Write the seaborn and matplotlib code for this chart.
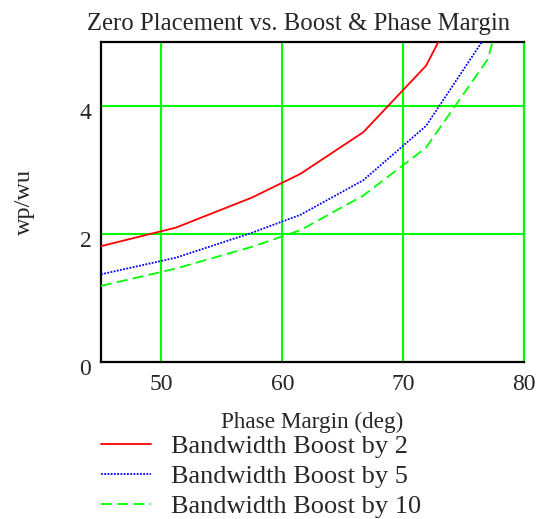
import matplotlib
matplotlib.use("Agg")
import matplotlib.pyplot as plt
import matplotlib.transforms as mtransforms
import seaborn as sns
import pandas as pd

phase_margin = [45, 51.2, 57.5, 61.5, 66.7, 71.9, 77.0, 80.0]
boost2 = [1.81, 2.10, 2.57, 2.94, 3.59, 4.63, 6.50, 7.6]
boost5 = [1.37, 1.63, 2.02, 2.30, 2.84, 3.69, 5.14, 6.2]
boost10 = [1.19, 1.46, 1.80, 2.06, 2.60, 3.35, 4.73, 6.75]
labels = ["Bandwidth Boost by 2", "Bandwidth Boost by 5", "Bandwidth Boost by 10"]

sns.set_style("white")
plt.rcParams['font.family'] = ['Liberation Serif', 'DejaVu Serif']

fig = plt.figure(figsize=(5.43, 5.19), dpi=100)
ax = fig.add_axes([101/543, 1-362/519, (524-101)/543, (362-42)/519])

styles = [("#ff0000", "-"), ("#0000ff", (0, (1, 0.8))), ("#00ff00", (0, (6, 3)))]
for ys, lab, (c, ls) in zip([boost2, boost5, boost10], labels, styles):
    df = pd.DataFrame({"x": phase_margin, "y": ys})
    sns.lineplot(data=df, x="x", y="y", ax=ax, color=c, linestyle=ls, linewidth=1.3,
                 label=lab, zorder=3)

ax.set_xlim(45, 80)
ax.set_ylim(0, 5)
ax.set_xticks([50, 60, 70, 80])
ax.set_yticks([0, 2, 4])
ax.grid(True, color="#00ff00", linewidth=1.5, zorder=1)
ax.set_axisbelow(True)
for s in ["left", "bottom", "top"]:
    ax.spines[s].set_color("black")
    ax.spines[s].set_linewidth(1.6)
ax.spines["right"].set_color("#00ff00")
ax.spines["right"].set_linewidth(1.6)
ax.tick_params(axis="both", length=0, labelsize=17)
ax.tick_params(axis="x", pad=9)
ax.tick_params(axis="y", pad=7)
off = mtransforms.ScaledTranslation(0, -5/100, fig.dpi_scale_trans)
for t in ax.get_yticklabels():
    t.set_transform(t.get_transform() + off)
ax.set_xlabel("Phase Margin (deg)", fontsize=16.7, labelpad=12)
ax.set_ylabel("wp/wu", fontsize=17.5, labelpad=32)
ax.set_title("Zero Placement vs. Boost & Phase Margin", fontsize=17.8, pad=9, x=0.466)

h, l = ax.get_legend_handles_labels()
ax.get_legend().remove()
fig.legend(h, l, loc="upper left", bbox_to_anchor=(90/543, 1-424/519), frameon=False,
           fontsize=19, handlelength=1.9, handletextpad=0.76, labelspacing=0.25,
           borderaxespad=0)

fig.savefig("out.png", dpi=100)
